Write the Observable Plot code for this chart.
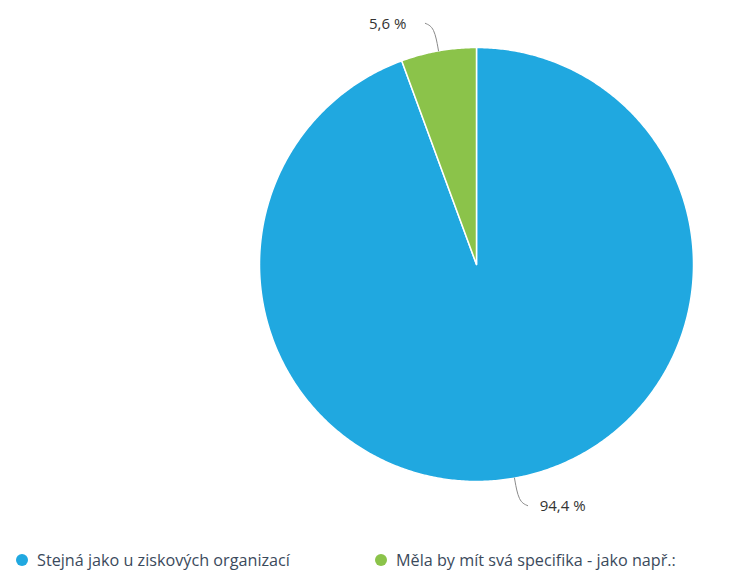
<!DOCTYPE html>
<html>
<head>
<meta charset="utf-8">
<script src="https://cdn.jsdelivr.net/npm/d3@7"></script>
<script src="https://cdn.jsdelivr.net/npm/@observablehq/plot@0.6"></script>
<style>
  html, body { margin: 0; padding: 0; background: #fff; }
  #wrap { position: relative; width: 739px; height: 579px; overflow: hidden; }
  #legend { position: absolute; left: 0; top: 540px; width: 739px; height: 39px;
            font-family: "Open Sans", "Noto Sans", sans-serif; font-size: 16.2px; color: #3b4a5c; }
  .item { position: absolute; top: 0; height: 39px; display: flex; align-items: center; }
  .dot { width: 12px; height: 12px; border-radius: 50%; margin-right: 9px; }
</style>
</head>
<body>
<div id="wrap"><div id="chart"></div><div id="legend"></div></div>
<script>
const categories = ["Stejná jako u ziskových organizací", "Měla by mít svá specifika - jako např.:"];
const values = [94.4, 5.6];
const colors = ["#20a8e0", "#8bc34a"];
const labels = ["94,4 %", "5,6 %"];

const W = 739, H = 540;
const CX = 476, CY = 264, R = 217;

// pie geometry (clockwise from 12 o'clock), in units of radius
const total = d3.sum(values);
let acc = 0;
const slices = values.map((v, i) => {
  const a0 = acc / total * 2 * Math.PI;
  acc += v;
  const a1 = acc / total * 2 * Math.PI;
  return {i, a0, a1, mid: (a0 + a1) / 2};
});

const polyPts = [];
for (const s of slices) {
  const n = Math.max(4, Math.ceil((s.a1 - s.a0) / (Math.PI / 360)));
  polyPts.push({k: s.i, u: 0, v: 0, c: colors[s.i]});
  for (let j = 0; j <= n; j++) {
    const a = s.a0 + (s.a1 - s.a0) * j / n;
    polyPts.push({k: s.i, u: Math.sin(a), v: Math.cos(a), c: colors[s.i]});
  }
}

// leader lines
const leadPts = [];
const labelPos = [];
for (const s of slices) {
  const sx = Math.sin(s.mid), sy = Math.cos(s.mid);
  const side = sx >= 0 ? 1 : -1;
  const vert = sy >= 0 ? 1 : -1;
  const e = {u: sx * 1.0, v: sy * 1.0};
  const m = {u: sx * 1.11, v: sy * 1.11};
  const t = {u: m.u + side * 9 / R, v: m.v + vert * 4 / R};
  leadPts.push({k: s.i, ...e}, {k: s.i, ...m}, {k: s.i, ...t});
  labelPos.push({u: t.u, v: t.v, side, text: labels[s.i]});
}

const chart = Plot.plot({
  width: W, height: H,
  margin: 0,
  x: {domain: [-CX / R, (W - CX) / R], axis: null},
  y: {domain: [-(H - CY) / R, CY / R], axis: null},
  color: {type: "identity"},
  marks: [
    Plot.line(polyPts, {x: "u", y: "v", z: "k", fill: "c", stroke: "#fff", strokeWidth: 1.5, strokeLinejoin: "round", curve: "linear-closed"}),
    Plot.line(leadPts, {x: "u", y: "v", z: "k", stroke: "#8a8a8a", strokeWidth: 1, curve: "basis"}),
    Plot.text(labelPos.filter(d => d.side > 0), {x: "u", y: "v", text: "text", textAnchor: "start", dx: 12, dy: 1, fontSize: 15, fill: "#333", fontFamily: "Open Sans, Noto Sans, sans-serif"}),
    Plot.text(labelPos.filter(d => d.side < 0), {x: "u", y: "v", text: "text", textAnchor: "end", dx: -19, dy: 1, fontSize: 15, fill: "#333", fontFamily: "Open Sans, Noto Sans, sans-serif"})
  ]
});
document.getElementById("chart").appendChild(chart);

const legendX = [16, 375];
const legend = document.getElementById("legend");
categories.forEach((c, i) => {
  const it = document.createElement("div");
  it.className = "item";
  it.style.left = legendX[i] + "px";
  const dot = document.createElement("span");
  dot.className = "dot";
  dot.style.background = colors[i];
  const tx = document.createElement("span");
  tx.textContent = c;
  it.appendChild(dot); it.appendChild(tx);
  legend.appendChild(it);
});
</script>
</body>
</html>
